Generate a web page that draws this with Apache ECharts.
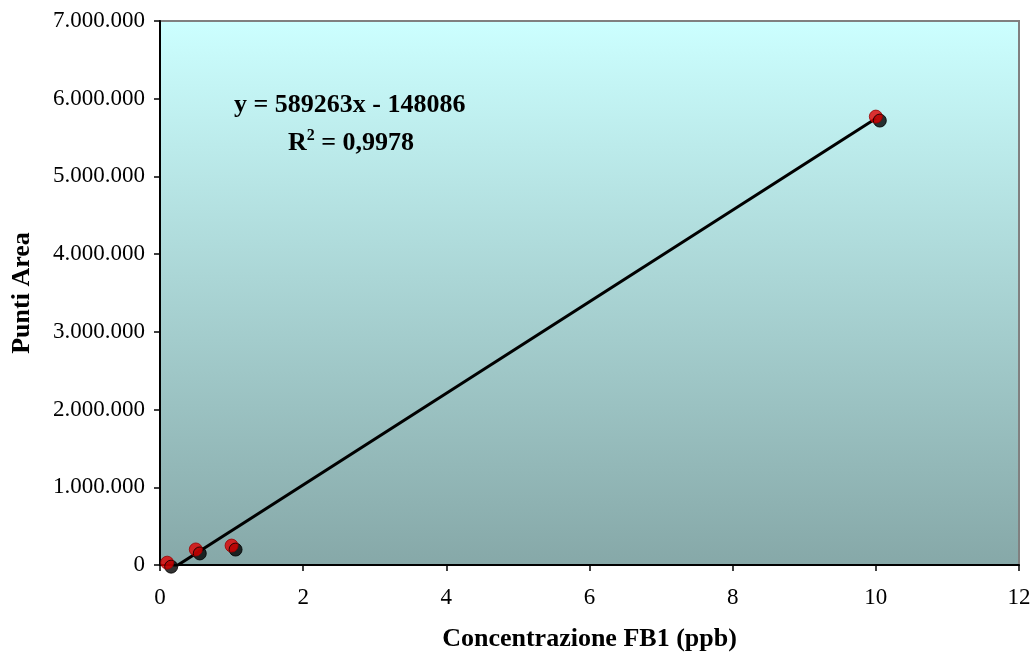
<!DOCTYPE html>
<html><head><meta charset="utf-8">
<script src="https://cdn.jsdelivr.net/npm/echarts@6/dist/echarts.min.js"></script>
<style>html,body{margin:0;padding:0;background:#fff}#c{width:1032px;height:654px}</style>
</head><body><div id="c"></div>
<script>
const xValues = [0.1, 0.5, 1, 10];
const yValues = [30000, 200000, 250000, 5770000];
const slope = 589263;
const intercept = -148086;
const trendX = [0.1, 10];
const equationText = 'y = 589263x - 148086';
const r2Text = '0,9978';
const xTitle = 'Concentrazione FB1 (ppb)';
const yTitle = 'Punti Area';

const chart = echarts.init(document.getElementById('c'));
const fmt = v => v === 0 ? '0' : String(Math.round(v)).replace(/\B(?=(\d{3})+(?!\d))/g, '.');
const font = '"Liberation Serif", "Times New Roman", serif';
chart.setOption({
  animation: false,
  grid: {
    left: 160, right: 13, top: 21, bottom: 89, show: true,
    outerBoundsMode: 'none', containLabel: false,
    backgroundColor: new echarts.graphic.LinearGradient(0, 0, 0, 1, [
      {offset: 0, color: '#ccffff'}, {offset: 1, color: '#86a8a8'}]),
    borderColor: '#808080', borderWidth: 2
  },
  xAxis: {
    type: 'value', min: 0, max: 12, interval: 2,
    name: xTitle, nameLocation: 'middle', nameGap: 61,
    nameTextStyle: {fontFamily: font, fontWeight: 'bold', fontSize: 26, color: '#000'},
    axisLine: {show: true, onZero: false, lineStyle: {color: '#000', width: 2}},
    axisTick: {show: true, length: 6, lineStyle: {color: '#000', width: 1.5}},
    axisLabel: {fontFamily: font, fontSize: 23, color: '#000', margin: 21},
    splitLine: {show: false}
  },
  yAxis: {
    type: 'value', min: 0, max: 7000000, interval: 1000000,
    name: yTitle, nameLocation: 'middle', nameGap: 125,
    nameTextStyle: {fontFamily: font, fontWeight: 'bold', fontSize: 26, color: '#000'},
    axisLine: {show: true, lineStyle: {color: '#000', width: 2}},
    axisTick: {show: true, length: 6, lineStyle: {color: '#000', width: 1.5}},
    axisLabel: {fontFamily: font, fontSize: 23, color: '#000', margin: 15, formatter: fmt},
    splitLine: {show: false}
  },
  series: [
    {
      type: 'line', clip: true, symbol: 'none',
      data: trendX.map(x => [x, slope * x + intercept]),
      lineStyle: {color: '#000', width: 3},
      z: 2
    },
    {
      type: 'scatter', symbol: 'circle', symbolSize: 13,
      data: xValues.map((x, i) => [x, yValues[i]]),
      itemStyle: {color: '#e00000', borderColor: '#990000', borderWidth: 1,
        shadowColor: '#000', shadowBlur: 0, shadowOffsetX: 4, shadowOffsetY: 4},
      z: 3
    }
  ],
  graphic: [
    {type: 'text', left: 234, top: 92, style: {text: equationText, font: 'bold 26px ' + font, fill: '#000'}},
    {type: 'text', left: 288, top: 128, style: {
      text: '{a|R}{s|2}{a| = ' + r2Text + '}',
      rich: {
        a: {fontFamily: font, fontWeight: 'bold', fontSize: 26, color: '#000', verticalAlign: 'bottom'},
        s: {fontFamily: font, fontWeight: 'bold', fontSize: 16, color: '#000', verticalAlign: 'top', padding: [0, 0, 12, 0]}
      }
    }}
  ]
});
</script></body></html>
